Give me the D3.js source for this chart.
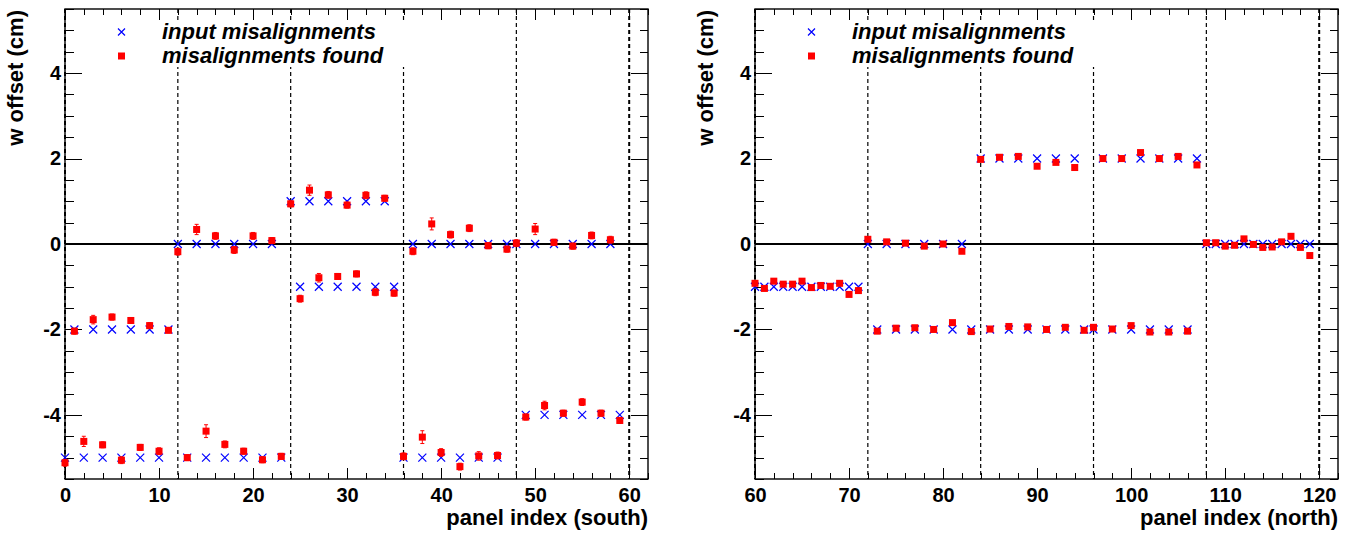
<!DOCTYPE html>
<html><head><meta charset="utf-8">
<script src="https://cdn.jsdelivr.net/npm/d3@7"></script>
<style>body{margin:0;background:#fff}svg{display:block}</style>
</head><body><svg id="c" width="1349" height="534"></svg>
<script>
// ---------------- data ----------------
const southStart = 0;   // first panel index (south)
const northStart = 60;  // first panel index (north)

const southInput = [
  -5,-2,-5,-2,-5,-2,-5,-2,-5,-2,-5,-2,
   0,-5, 0,-5, 0,-5, 0,-5, 0,-5, 0,-5,
   1,-1, 1,-1, 1,-1, 1,-1, 1,-1, 1,-1,
  -5, 0,-5, 0,-5, 0,-5, 0,-5, 0,-5, 0,
   0,-4, 0,-4, 0,-4, 0,-4, 0,-4, 0,-4];
const southFound = [
  -5.12,-2.04,-4.62,-1.77,-4.70,-1.71,-5.06,-1.79,-4.76,-1.91,-4.85,-2.02,
  -0.18,-5.00, 0.34,-4.38, 0.19,-4.69,-0.14,-4.85, 0.19,-5.05, 0.08,-4.97,
   0.94,-1.28, 1.26,-0.79, 1.15,-0.76, 0.91,-0.70, 1.14,-1.13, 1.07,-1.15,
  -4.97,-0.17,-4.52, 0.47,-4.88, 0.22,-5.21, 0.37,-4.96,-0.04,-4.95,-0.12,
   0.02,-4.05, 0.35,-3.78, 0.04,-3.96,-0.05,-3.70, 0.20,-3.96, 0.10,-4.13];
const southError = [
  0.08,0.07,0.12,0.10,0.07,0.07,0.08,0.07,0.07,0.07,0.08,0.06,
  0.08,0.07,0.12,0.15,0.08,0.08,0.08,0.07,0.08,0.07,0.07,0.07,
  0.07,0.08,0.12,0.10,0.08,0.07,0.07,0.07,0.08,0.08,0.07,0.07,
  0.08,0.08,0.15,0.14,0.09,0.08,0.08,0.08,0.10,0.07,0.08,0.07,
  0.08,0.07,0.13,0.10,0.07,0.07,0.07,0.08,0.08,0.07,0.08,0.07];

const northInput = [
  -1,-1,-1,-1,-1,-1,-1,-1,-1,-1,-1,-1,
   0,-2, 0,-2, 0,-2, 0,-2, 0,-2, 0,-2,
   2,-2, 2,-2, 2,-2, 2,-2, 2,-2, 2,-2,
  -2, 2,-2, 2,-2, 2,-2, 2,-2, 2,-2, 2,
   0, 0, 0, 0, 0, 0, 0, 0, 0, 0, 0, 0];
const northFound = [
  -0.92,-1.04,-0.87,-0.94,-0.94,-0.87,-1.02,-0.97,-0.99,-0.92,-1.18,-1.09,
   0.11,-2.04, 0.05,-1.97, 0.02,-1.96,-0.05,-2.00, 0.00,-1.84,-0.17,-2.05,
   1.98,-1.99, 2.03,-1.93, 2.05,-1.94, 1.82,-2.00, 1.91,-1.95, 1.79,-2.02,
  -1.95, 2.00,-1.99, 2.00,-1.91, 2.14,-2.06, 2.00,-2.06, 2.05,-2.04, 1.85,
   0.03, 0.03,-0.05,-0.03, 0.12,-0.01,-0.08,-0.07, 0.05, 0.18,-0.08,-0.27];
const northError = [
  0.04,0.04,0.04,0.04,0.04,0.04,0.04,0.04,0.04,0.04,0.04,0.04,
  0.04,0.04,0.04,0.04,0.04,0.04,0.04,0.04,0.04,0.04,0.04,0.04,
  0.04,0.04,0.04,0.04,0.04,0.04,0.04,0.04,0.04,0.04,0.04,0.04,
  0.04,0.04,0.04,0.04,0.04,0.04,0.04,0.04,0.04,0.04,0.04,0.04,
  0.04,0.04,0.04,0.04,0.04,0.04,0.04,0.04,0.04,0.04,0.04,0.04];

const yTickValues = [-4,-2,0,2,4];
const southBounds = [0,12,24,36,48,60];
const northBounds = [60,72,84,96,108,120];
const legendLabels = ["input misalignments","misalignments found"];
const yTitle = "w offset (cm)";
const southTitle = "panel index (south)";
const northTitle = "panel index (north)";

// ---------------- drawing ----------------
const svg = d3.select("#c");
const FONT = "'Liberation Sans', Arial, Helvetica, sans-serif";
const TOP = 9, BOTTOM = 479;

function drawPanel(cfg){
  const x = d3.scaleLinear().domain(cfg.xDomain).range([cfg.left, cfg.right]);
  const y = d3.scaleLinear().domain([-5.5,5.5]).range([BOTTOM, TOP]);
  const g = svg.append("g");

  const xMajor = x.ticks(6), xMinor = x.ticks(31).filter(v => !xMajor.includes(v));
  const yMinor = y.ticks(22).filter(v => !yTickValues.includes(v));

  function ax(axis, tr){
    const a = g.append("g").attr("transform", tr).call(axis);
    a.select(".domain").remove();
    a.selectAll("line").attr("stroke","#000").attr("stroke-width",1).attr("shape-rendering","crispEdges");
    a.selectAll("text").attr("font-family",FONT).attr("font-weight","bold").attr("font-size",20).attr("fill","#000");
    return a;
  }
  // bottom
  ax(d3.axisBottom(x).tickValues(xMinor).tickSize(-6).tickFormat(""), `translate(0,${BOTTOM})`);
  ax(d3.axisBottom(x).tickValues(xMajor).tickSizeInner(-11).tickSizeOuter(0).tickPadding(9).tickFormat(d=>String(d)), `translate(0,${BOTTOM})`);
  // top
  ax(d3.axisTop(x).tickValues(xMinor).tickSize(-6).tickFormat(""), `translate(0,${TOP})`);
  ax(d3.axisTop(x).tickValues(xMajor).tickSize(-11).tickFormat(""), `translate(0,${TOP})`);
  // left
  ax(d3.axisLeft(y).tickValues(yMinor).tickSize(-8.5).tickFormat(""), `translate(${cfg.left},0)`);
  ax(d3.axisLeft(y).tickValues(yTickValues).tickSizeInner(-17).tickSizeOuter(0).tickPadding(4).tickFormat(d=>String(d)), `translate(${cfg.left},0)`);
  // right
  ax(d3.axisRight(y).tickValues(yMinor).tickSize(-8.5).tickFormat(""), `translate(${cfg.right},0)`);
  ax(d3.axisRight(y).tickValues(yTickValues).tickSize(-17).tickFormat(""), `translate(${cfg.right},0)`);

  // dashed group boundaries
  g.selectAll("line.sep").data(cfg.bounds).join("line")
    .attr("x1", d=>x(d)).attr("x2", d=>x(d))
    .attr("y1", TOP).attr("y2", BOTTOM)
    .attr("stroke","#000")
    .attr("stroke-width", (d,i)=> (i===0 || i===cfg.bounds.length-1) ? 2 : 1.2)
    .attr("stroke-dasharray","4,3");

  // frame
  g.append("rect").attr("x",cfg.left).attr("y",TOP)
    .attr("width",cfg.right-cfg.left).attr("height",BOTTOM-TOP)
    .attr("fill","none").attr("stroke","#000").attr("stroke-width",1.4);

  // zero line
  g.append("line").attr("x1",cfg.left).attr("x2",cfg.right)
    .attr("y1",y(0)).attr("y2",y(0)).attr("stroke","#000").attr("stroke-width",2);

  // legend (white box over lines)
  const lx = cfg.left;
  g.append("rect").attr("x",lx+30).attr("y",22).attr("width",365).attr("height",45).attr("fill","#fff");
  g.append("path").attr("d",`M${lx+53},${28.5}l7,7m0,-7l-7,7`).attr("stroke","#0000ff").attr("stroke-width",1.2).attr("fill","none");
  g.append("rect").attr("x",lx+53).attr("y",52.5).attr("width",7).attr("height",7).attr("fill","#ff0000");
  g.selectAll("text.leg").data(legendLabels).join("text")
    .attr("x",lx+97).attr("y",(d,i)=>39+i*23.5)
    .attr("font-family",FONT).attr("font-weight","bold").attr("font-style","italic")
    .attr("font-size",22).attr("fill","#000").text(d=>d);

  // axis titles
  g.append("text").attr("x",cfg.right).attr("y",525).attr("text-anchor","end")
    .attr("font-family",FONT).attr("font-weight","bold").attr("font-size",22).text(cfg.title);
  g.append("text").attr("transform",`translate(${cfg.left-42},${TOP+1}) rotate(-90)`)
    .attr("text-anchor","end")
    .attr("font-family",FONT).attr("font-weight","bold").attr("font-size",22).text(yTitle);

  // data
  const pts = cfg.input.map((v,i)=>({i:cfg.start+i, inp:v, f:cfg.found[i], e:cfg.err[i]}));
  g.selectAll("path.inp").data(pts).join("path")
    .attr("d", d=>`M${x(d.i)-4},${y(d.inp)-4}l8,8m0,-8l-8,8`)
    .attr("stroke","#0000ff").attr("stroke-width",1.2).attr("fill","none");
  g.selectAll("path.err").data(pts).join("path")
    .attr("d", d=>`M${x(d.i)},${y(d.f-d.e)}V${y(d.f+d.e)}M${x(d.i)-2},${y(d.f-d.e)}h4M${x(d.i)-2},${y(d.f+d.e)}h4`)
    .attr("stroke","#ff0000").attr("stroke-width",1).attr("fill","none");
  g.selectAll("rect.fnd").data(pts).join("rect")
    .attr("x", d=>x(d.i)-3.5).attr("y", d=>y(d.f)-3.5).attr("width",7).attr("height",7)
    .attr("fill","#ff0000");
}

drawPanel({xDomain:[0,62], left:65, right:648, bounds:southBounds, title:southTitle,
  start:southStart, input:southInput, found:southFound, err:southError});
drawPanel({xDomain:[60,122], left:755, right:1338, bounds:northBounds, title:northTitle,
  start:northStart, input:northInput, found:northFound, err:northError});
</script></body></html>
